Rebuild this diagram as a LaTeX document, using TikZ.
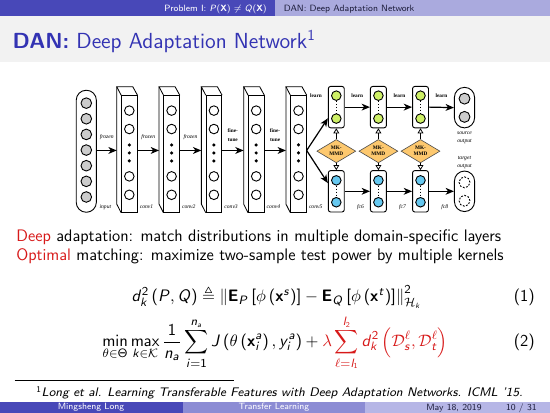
\documentclass[tikz,border=0pt]{standalone}
\usepackage{amsmath,amssymb}
\usepackage[no-math]{fontspec}
\newfontfamily\timesf{Liberation Serif}
\DeclareSymbolFont{operators}{OT1}{cmss}{m}{n}
\DeclareMathAlphabet{\msi}{OT1}{cmss}{m}{sl}
\DeclareMathAlphabet{\msb}{OT1}{cmss}{bx}{n}
\newcommand\Ls[1]{\msi{#1}}
\newcommand\Lb[1]{\msb{#1}}
\usetikzlibrary{arrows.meta,calc,shapes.geometric}
\definecolor{hdark}{RGB}{72,72,184}
\definecolor{hlight}{RGB}{170,170,222}
\definecolor{fmid}{RGB}{140,140,212}
\definecolor{flight}{RGB}{182,182,230}
\definecolor{titleblue}{RGB}{51,51,179}
\definecolor{alertred}{RGB}{215,25,25}
\definecolor{titlebg}{RGB}{242,242,242}
\definecolor{navytext}{RGB}{30,30,60}
\definecolor{fgreen}{RGB}{206,240,102}
\definecolor{fblue}{RGB}{102,200,240}
\definecolor{mmdfill}{RGB}{253,200,110}
\tikzset{
 face/.style={draw, line width=0.55pt, fill=white, minimum width=10.2pt, minimum height=77pt, inner sep=0pt},
 ghost/.style={minimum width=10.2pt, minimum height=77pt, inner sep=0pt},
 neuron/.style={circle, draw, line width=0.6pt, minimum size=6.3pt, inner sep=0pt},
 dotn/.style={circle, fill=black, minimum size=2.3pt, inner sep=0pt},
 pill/.style={draw, line width=0.6pt, rounded corners=6.6pt, minimum width=13.3pt, inner sep=0pt},
 fcbox/.style={draw, line width=0.6pt, rounded corners=1.5pt, fill=white, minimum width=10.5pt, minimum height=27.3pt, inner sep=0pt},
 mmd/.style={diamond, draw=black!70, line width=0.4pt, fill=mmdfill, minimum width=25.7pt, minimum height=15.4pt, inner sep=0pt, font=\timesf\bfseries\fontsize{3.5}{3.9}\selectfont, align=center},
 arr/.style={line width=0.8pt, -{Stealth[length=5.5pt,width=4.5pt,inset=1.6pt]}},
 oarr/.style={line width=0.5pt, -{Triangle[open,length=3.3pt,width=3.8pt]}},
 lab/.style={font=\timesf\itshape\fontsize{3.7}{4.2}\selectfont, inner sep=0pt},
 blab/.style={font=\timesf\bfseries\fontsize{3.5}{4}\selectfont, inner sep=0pt},
 dotline/.style={line width=0.9pt, dash pattern=on 0.9pt off 1.1pt},
 body/.style={font=\sffamily\fontsize{11}{13.6}\selectfont, inner sep=0pt},
 tinyt/.style={font=\sffamily\fontsize{6}{7}\selectfont, inner sep=0pt},
}
\begin{document}
\begin{tikzpicture}[x=0.6597pt,y=-0.6573pt]
\useasboundingbox (0,0) rectangle (550,414);
% header, title bar, footer
\fill[hdark] (0,0) rectangle (275,16.5);
\fill[hlight] (275,0) rectangle (550,16.5);
\fill[titlebg] (0,16.5) rectangle (550,62.5);
\fill[hdark] (0,403.3) rectangle (182.5,414);
\fill[fmid] (182.5,403.3) rectangle (365,414);
\fill[flight] (365,403.3) rectangle (550,414);
\node[tinyt, text=white, anchor=base east] (hsec) at (267,11.5) {Problem I: $\Ls{P}(\Lb{X})\neq\Ls{Q}(\Lb{X})$};
\node[tinyt, text=navytext, anchor=base west] (hsub) at (283.5,11.5) {DAN: Deep Adaptation Network};
\node[anchor=base west, text=titleblue, font=\sffamily\fontsize{14.4}{18}\selectfont, inner sep=0pt] (title) at (12.3,49) {\textbf{DAN:} Deep Adaptation Network\textsuperscript{1}};
\node[tinyt, text=white] (fauth) at (91,409) {Mingsheng Long};
\node[tinyt, text=white] (ftitle) at (274,409) {Transfer Learning};
\node[tinyt, text=navytext, anchor=base west] (fdate) at (426,411.5) {May 18, 2019};
\node[tinyt, text=navytext, anchor=base east] (fpage) at (537,411.5) {10 / 31};

% ---------------- network -----------------
\coordinate (ay) at (0,151);
\node[pill, minimum height=80.5pt] (inp) at (86.3,151.8) {};
\foreach \k in {0,...,6}
  \node[neuron, fill=gray!40, minimum size=7pt] (i\k) at (86.3,{103.5+15.7*\k}) {};
\foreach \k/\x in {1/129.3,2/171.6,3/213.9,4/256.2,5/298.5}{
  \node[face] (c\k) at (\x,154.5) {};
  \node[ghost] (cb\k) at ($(c\k)+(-4.5,-8.5)$) {};
  \draw[line width=0.55pt] (c\k.north west) -- (cb\k.north west) -- (cb\k.north east) -- (c\k.north east);
  \draw[line width=0.55pt] (cb\k.north west) -- (cb\k.south west) -- (c\k.south west);
  \foreach \y [count=\j] in {111,129.5,177,195.5}
    \node[neuron] (c\k n\j) at (\x,\y) {};
  \foreach \y [count=\j] in {145.5,153.5,161.5}
    \node[dotn] (c\k d\j) at (\x,\y) {};
}
\draw[arr] (inp.east |- ay) -- (cb1.west |- ay);
\draw[arr] (c1.east |- ay) -- (cb2.west |- ay);
\draw[arr] (c2.east |- ay) -- (cb3.west |- ay);
\draw[arr] (c3.east |- ay) -- (cb4.west |- ay);
\draw[arr] (c4.east |- ay) -- (cb5.west |- ay);
\node[lab, anchor=base] (fz1) at (106.8,139.5) {frozen};
\node[lab, anchor=base] (fz2) at (148.2,139.5) {frozen};
\node[lab, anchor=base] (fz3) at (190.5,139.5) {frozen};
\node[blab, anchor=base] (ft1a) at (232.8,133.3) {fine-};
\node[blab, anchor=base] (ft1b) at (232.8,142) {tune};
\node[blab, anchor=base] (ft2a) at (275.1,133.3) {fine-};
\node[blab, anchor=base] (ft2b) at (275.1,142) {tune};
\node[lab, anchor=base west] (linp) at (99.3,209) {input};
\node[lab, anchor=base west] (lc1) at (139.5,209) {conv1};
\node[lab, anchor=base west] (lc2) at (181.8,209) {conv2};
\node[lab, anchor=base west] (lc3) at (224.1,209) {conv3};
\node[lab, anchor=base west] (lc4) at (266.4,209) {conv4};
\node[lab, anchor=base west] (lc5) at (308.7,209) {conv5};

% fc layers
\foreach \k/\x in {1/336.3,2/378.4,3/420.5}{
  \node[fcbox] (t\k) at (\x,107.5) {};
  \node[neuron, fill=fgreen] (t\k a) at (\x,96) {};
  \node[neuron, fill=fgreen] (t\k z) at (\x,119) {};
  \draw[dotline] (t\k a.south) -- (t\k z.north);
  \node[fcbox] (b\k) at (\x,192) {};
  \node[neuron, fill=fblue] (b\k a) at (\x,181) {};
  \node[neuron, fill=fblue] (b\k z) at (\x,203) {};
  \draw[dotline] (b\k a.south) -- (b\k z.north);
  \node[mmd] (m\k) at (\x,151.7) {MK-\\MMD};
  \draw[oarr] (m\k.north) -- (t\k.south);
  \draw[oarr] (m\k.south) -- (b\k.north);
}
\node[pill, minimum height=26.7pt] (so) at (464.5,108) {};
\node[neuron, fill=gray!40, minimum size=7.2pt] (so1) at (464.5,99) {};
\node[neuron, fill=gray!40, minimum size=7.2pt] (so2) at (464.5,117.3) {};
\node[pill, minimum height=26.7pt] (ta) at (464.5,192) {};
\node[neuron, dash pattern=on 1.2pt off 1pt, minimum size=7.2pt] (ta1) at (464.5,183) {};
\node[neuron, dash pattern=on 1.2pt off 1pt, minimum size=7.2pt] (ta2) at (464.5,201.5) {};

\coordinate (sp) at (c5.east |- ay);
\coordinate (t1in) at ($(t1.south west)+(0,-10)$);
\coordinate (b1in) at ($(b1.north west)+(0,13)$);
\draw[arr] (sp) -- (t1in);
\draw[arr] (sp) -- (b1in);
\draw[arr] (t1.east) -- (t2.west);
\draw[arr] (t2.east) -- (t3.west);
\draw[arr] (t3.east) -- (so.west);
\draw[arr] (b1.east) -- (b2.west);
\draw[arr] (b2.east) -- (b3.west);
\draw[arr] (b3.east) -- (ta.west);
\node[blab, anchor=base] (ln1) at (316,97.5) {learn};
\node[blab, anchor=base] (ln2) at (357.3,97.5) {learn};
\node[blab, anchor=base] (ln3) at (399.5,97.5) {learn};
\node[blab, anchor=base] (ln4) at (441.5,97.5) {learn};
\node[lab, anchor=base west] (lf6) at (356.7,209) {fc6};
\node[lab, anchor=base west] (lf7) at (398.8,209) {fc7};
\node[lab, anchor=base west] (lf8) at (441,209) {fc8};
\node[lab, anchor=base] (lso1) at (464.5,135) {source};
\node[lab, anchor=base] (lso2) at (464.5,143.5) {output};
\node[lab, anchor=base] (lta1) at (464.5,160) {target};
\node[lab, anchor=base] (lta2) at (464.5,168.5) {output};

% ---------------- text -----------------
\node[body, anchor=base west] (line1) at (16,242) {\textcolor{alertred}{Deep} adaptation: match distributions in multiple domain-specific layers};
\node[body, anchor=base west] (line2) at (16,261.5) {\textcolor{alertred}{Optimal} matching: maximize two-sample test power by multiple kernels};

\node[body, anchor=base] (eq1) at (276.5,303) {$\Ls{d}_{\Ls{k}}^{2}\left(\Ls{P},\Ls{Q}\right)\triangleq\left\|\Lb{E}_{\Ls{P}}\left[\phi\left(\Lb{x}^{\Ls{s}}\right)\right]-\Lb{E}_{\Ls{Q}}\left[\phi\left(\Lb{x}^{\Ls{t}}\right)\right]\right\|_{\mathcal{H}_{\Ls{k}}}^{2}$};
\node[body, anchor=base east] (tag1) at (535,303) {(1)};
\node[body, anchor=base] (eq2) at (275,348) {$\displaystyle\min_{\theta\in\Theta}\max_{\Ls{k}\in\mathcal{K}}\frac{1}{\Ls{n}_{\Ls{a}}}\sum_{\Ls{i}=1}^{\Ls{n}_{\Ls{a}}}\Ls{J}\left(\theta\left(\Lb{x}_{\Ls{i}}^{\Ls{a}}\right),\Ls{y}_{\Ls{i}}^{\Ls{a}}\right)+{\color{alertred}\lambda\sum_{\ell=\Ls{l}_1}^{\Ls{l}_2}\Ls{d}_{\Ls{k}}^{2}\left(\mathcal{D}_{\Ls{s}}^{\ell},\mathcal{D}_{\Ls{t}}^{\ell}\right)}$};
\node[body, anchor=base east] (tag2) at (535,348) {(2)};

\draw[line width=0.4pt] (14.7,381.6) coordinate (fr1) -- (234,381.6) coordinate (fr2);
\node[anchor=base west, font=\sffamily\fontsize{8.2}{10}\selectfont, inner sep=0pt] (fnote) at (36,398) {\textsuperscript{1}\textit{Long et al. Learning Transferable Features with Deep Adaptation Networks. ICML '15.}};
\end{tikzpicture}
\end{document}
